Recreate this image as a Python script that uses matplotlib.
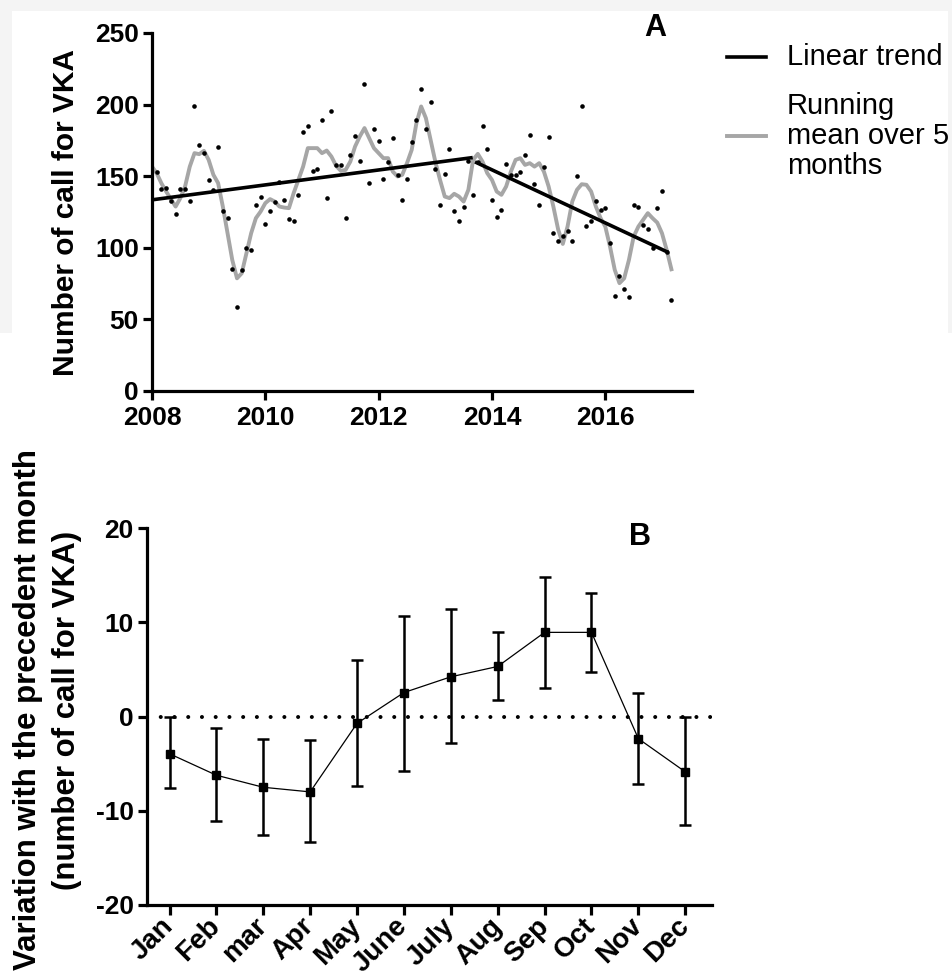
import matplotlib
matplotlib.use('Agg')
import matplotlib.pyplot as plt
from matplotlib.lines import Line2D
from matplotlib.patches import Rectangle
import numpy as np

plt.rcParams['font.family'] = ['Liberation Sans', 'DejaVu Sans']
plt.rcParams['font.weight'] = 'bold'
plt.rcParams['axes.unicode_minus'] = False

# ---------------- Panel A data ----------------
month_index = list(range(1, 111))          # months after Jan 2008
calls = [152.8, 141, 141.9, 132.8, 123.9, 141, 141, 132.8, 199.2, 171.9,
         166.1, 147, 140.5, 170.7, 125.8, 120.7, 85.5, 58.7, 84.6, 99.7,
         98.5, 130, 135.8, 116.9, 125.8, 131.9, 146, 133.5, 120.4, 118.8,
         136.8, 180.8, 185.2, 153.7, 154.9, 189.2, 134.9, 195.2, 157.9, 157.9,
         120.7, 164.9, 178, 160.9, 214.3, 145.6, 183.1, 174.9, 147.9, 160,
         176.8, 150.7, 133.7, 147.9, 174, 188.9, 210.8, 182.9, 202, 154.9,
         130, 151.6, 169.1, 125.6, 118.8, 128.8, 160.7, 136.8, 160, 185,
         169.1, 133.7, 121.6, 126.7, 158.8, 150.7, 150.7, 152.8, 164.9, 178.9,
         144.9, 130, 156.7, 177.7, 110.6, 104.6, 108.5, 111.6, 104.6, 149.8,
         199.2, 115.5, 118.8, 132.8, 126.7, 127.9, 103.6, 66.4, 80.6, 71.5,
         65.5, 130, 128.8, 115.8, 112.8, 99.7, 127.9, 140, 97, 63.6]

smooth_index = list(range(0, 111))
running_mean = [156.7, 152, 145, 139.3, 134, 128.8, 134.7, 142.8, 156.7, 166.1,
                165.4, 167.7, 161.4, 151, 145.2, 128.8, 110.2, 91.5, 78.7, 82.2,
                96.2, 110.2, 120.7, 125.3, 131.2, 134, 132.3, 128.8, 128.1, 127.7,
                138.2, 147.4, 156.7, 169.6, 169.6, 169.6, 166.1, 167.9, 163.7, 157.2,
                153.7, 154.4, 160.2, 170.7, 177.7, 183.6, 176.6, 169.6, 166.1, 162.6,
                162.6, 153.2, 149.8, 151, 159.1, 168.4, 187.1, 198.7, 190.6, 175.4,
                160.2, 147.4, 135.8, 134.7, 137.7, 135.8, 132.3, 140.5, 161.4, 165.6,
                160.2, 152.1, 147.4, 139.3, 137, 142.8, 153.2, 161.4, 162.6, 157.9,
                159.1, 156.7, 159.1, 153.2, 142.8, 128.8, 113, 102.7, 114.8, 132.3,
                140.5, 144.4, 144, 139.3, 128.8, 120.7, 114.8, 100.8, 84.6, 75.3,
                78.7, 91.5, 107.8, 114.8, 119.5, 124.2, 120.7, 117.6, 110.2, 98.5, 85]

trend1_year = [2008.0, 2013.66]
trend1_val = [133.5, 163.0]
trend2_year = [2013.70, 2017.11]
trend2_val = [160.0, 96.8]

year_ticks = [2008, 2010, 2012, 2014, 2016]
calls_ticks = [0, 50, 100, 150, 200, 250]

# ---------------- Panel B data ----------------
months = ['Jan', 'Feb', 'mar', 'Apr', 'May', 'June', 'July', 'Aug', 'Sep', 'Oct', 'Nov', 'Dec']
variation_mean = [-3.94, -6.22, -7.5, -7.99, -0.71, 2.56, 4.23, 5.33, 8.95, 8.95, -2.34, -5.86]
variation_upper = [0.0, -1.17, -2.34, -2.49, 6.0, 10.73, 11.44, 9.02, 14.88, 13.14, 2.49, 0.0]
variation_lower = [-7.57, -11.12, -12.61, -13.32, -7.39, -5.72, -2.77, 1.74, 3.02, 4.76, -7.14, -11.47]
variation_ticks = [-20, -10, 0, 10, 20]

W, H = 952, 976
fig = plt.figure(figsize=(W / 100, H / 100), dpi=100)
fig.patch.set_facecolor('white')


def fx(px):
    return px / W


def fy(py):
    return 1 - py / H


def style_axes(ax):
    for s in ['top', 'right']:
        ax.spines[s].set_visible(False)
    for s in ['left', 'bottom']:
        ax.spines[s].set_linewidth(2.3)
    ax.tick_params(width=2.3, length=6.5, labelsize=19, direction='out', color='black')


# ---------------- Panel A ----------------
axA = fig.add_axes([fx(152), fy(391), fx(692) - fx(152), fy(33) - fy(391)])
style_axes(axA)
xa = np.array([2008 + m / 12 for m in month_index])
xs = np.array([2008 + m / 12 for m in smooth_index])
axA.plot(xs, running_mean, color='#a6a6a6', lw=2.8, solid_joinstyle='round', zorder=2)
axA.plot(trend1_year, trend1_val, color='black', lw=2.6, solid_capstyle='butt', zorder=3)
axA.plot(trend2_year, trend2_val, color='black', lw=2.6, solid_capstyle='butt', zorder=3)
axA.plot(xa, calls, 'o', color='black', ms=3.3, mew=0, zorder=4)
axA.set_xlim(2008, 2017.53)
axA.set_ylim(0, 250)
axA.set_xticks(year_ticks)
axA.set_yticks(calls_ticks)
axA.tick_params(axis='y', pad=3)
axA.tick_params(axis='x', pad=4)

fig.text(fx(66), fy(212), 'Number of call for VKA', rotation=90, ha='center', va='center',
         fontsize=21.5, fontweight='bold')
fig.text(fx(655), fy(28), 'A', ha='center', va='center', fontsize=22, fontweight='bold')

# legend (manual)
fig.add_artist(Line2D([fx(727), fx(766)], [fy(57), fy(57)], color='black', lw=2.6))
fig.add_artist(Line2D([fx(727), fx(766)], [fy(136), fy(136)], color='#a6a6a6', lw=2.8))
fig.text(fx(787), fy(57), 'Linear trend', ha='left', va='center', fontsize=21, fontweight='normal')
fig.text(fx(787), fy(136), 'Running\nmean over 5\nmonths', ha='left', va='center', fontsize=21,
         fontweight='normal', linespacing=1.08)

# ---------------- Panel B ----------------
axB = fig.add_axes([fx(147), fy(905), fx(712) - fx(147), fy(528.3) - fy(905)])
style_axes(axB)
xb = np.arange(len(months))
mean = np.array(variation_mean)
err = [mean - np.array(variation_lower), np.array(variation_upper) - mean]
axB.axhline(0, color='black', lw=2.9, dashes=(0.01, 3.4), dash_capstyle='round', zorder=1)
axB.errorbar(xb, mean, yerr=err, fmt='s-', color='black', ms=6.3, lw=0.9,
             elinewidth=1.8, capsize=4.2, capthick=1.8, zorder=3)
axB.set_xlim(-0.48, 11.57)
axB.set_ylim(-20, 20)
axB.set_yticks(variation_ticks)
axB.set_xticks(xb)
axB.set_xticklabels(months, rotation=45, ha='right', va='center', rotation_mode='anchor',
                    fontsize=20)
axB.tick_params(axis='x', length=7.5, pad=5)
axB.tick_params(axis='y', pad=3)

fig.text(fx(28), fy(710), 'Variation with the precedent month', rotation=90, ha='center',
         va='center', fontsize=22.5, fontweight='bold')
fig.text(fx(67), fy(710), '(number of call for VKA)', rotation=90, ha='center',
         va='center', fontsize=22.5, fontweight='bold')
fig.text(fx(640), fy(537), 'B', ha='center', va='center', fontsize=22, fontweight='bold')

# light grey frame of the upper screenshot
grey = '#f4f4f4'
for (x0, y0, w, h) in [(0, 0, W, 11), (0, 0, 12, 333), (948, 0, 4, 333)]:
    fig.add_artist(Rectangle((fx(x0), fy(y0 + h)), w / W, h / H, transform=fig.transFigure,
                             facecolor=grey, edgecolor='none', zorder=10))

fig.savefig('out.png', dpi=100, facecolor='white')
